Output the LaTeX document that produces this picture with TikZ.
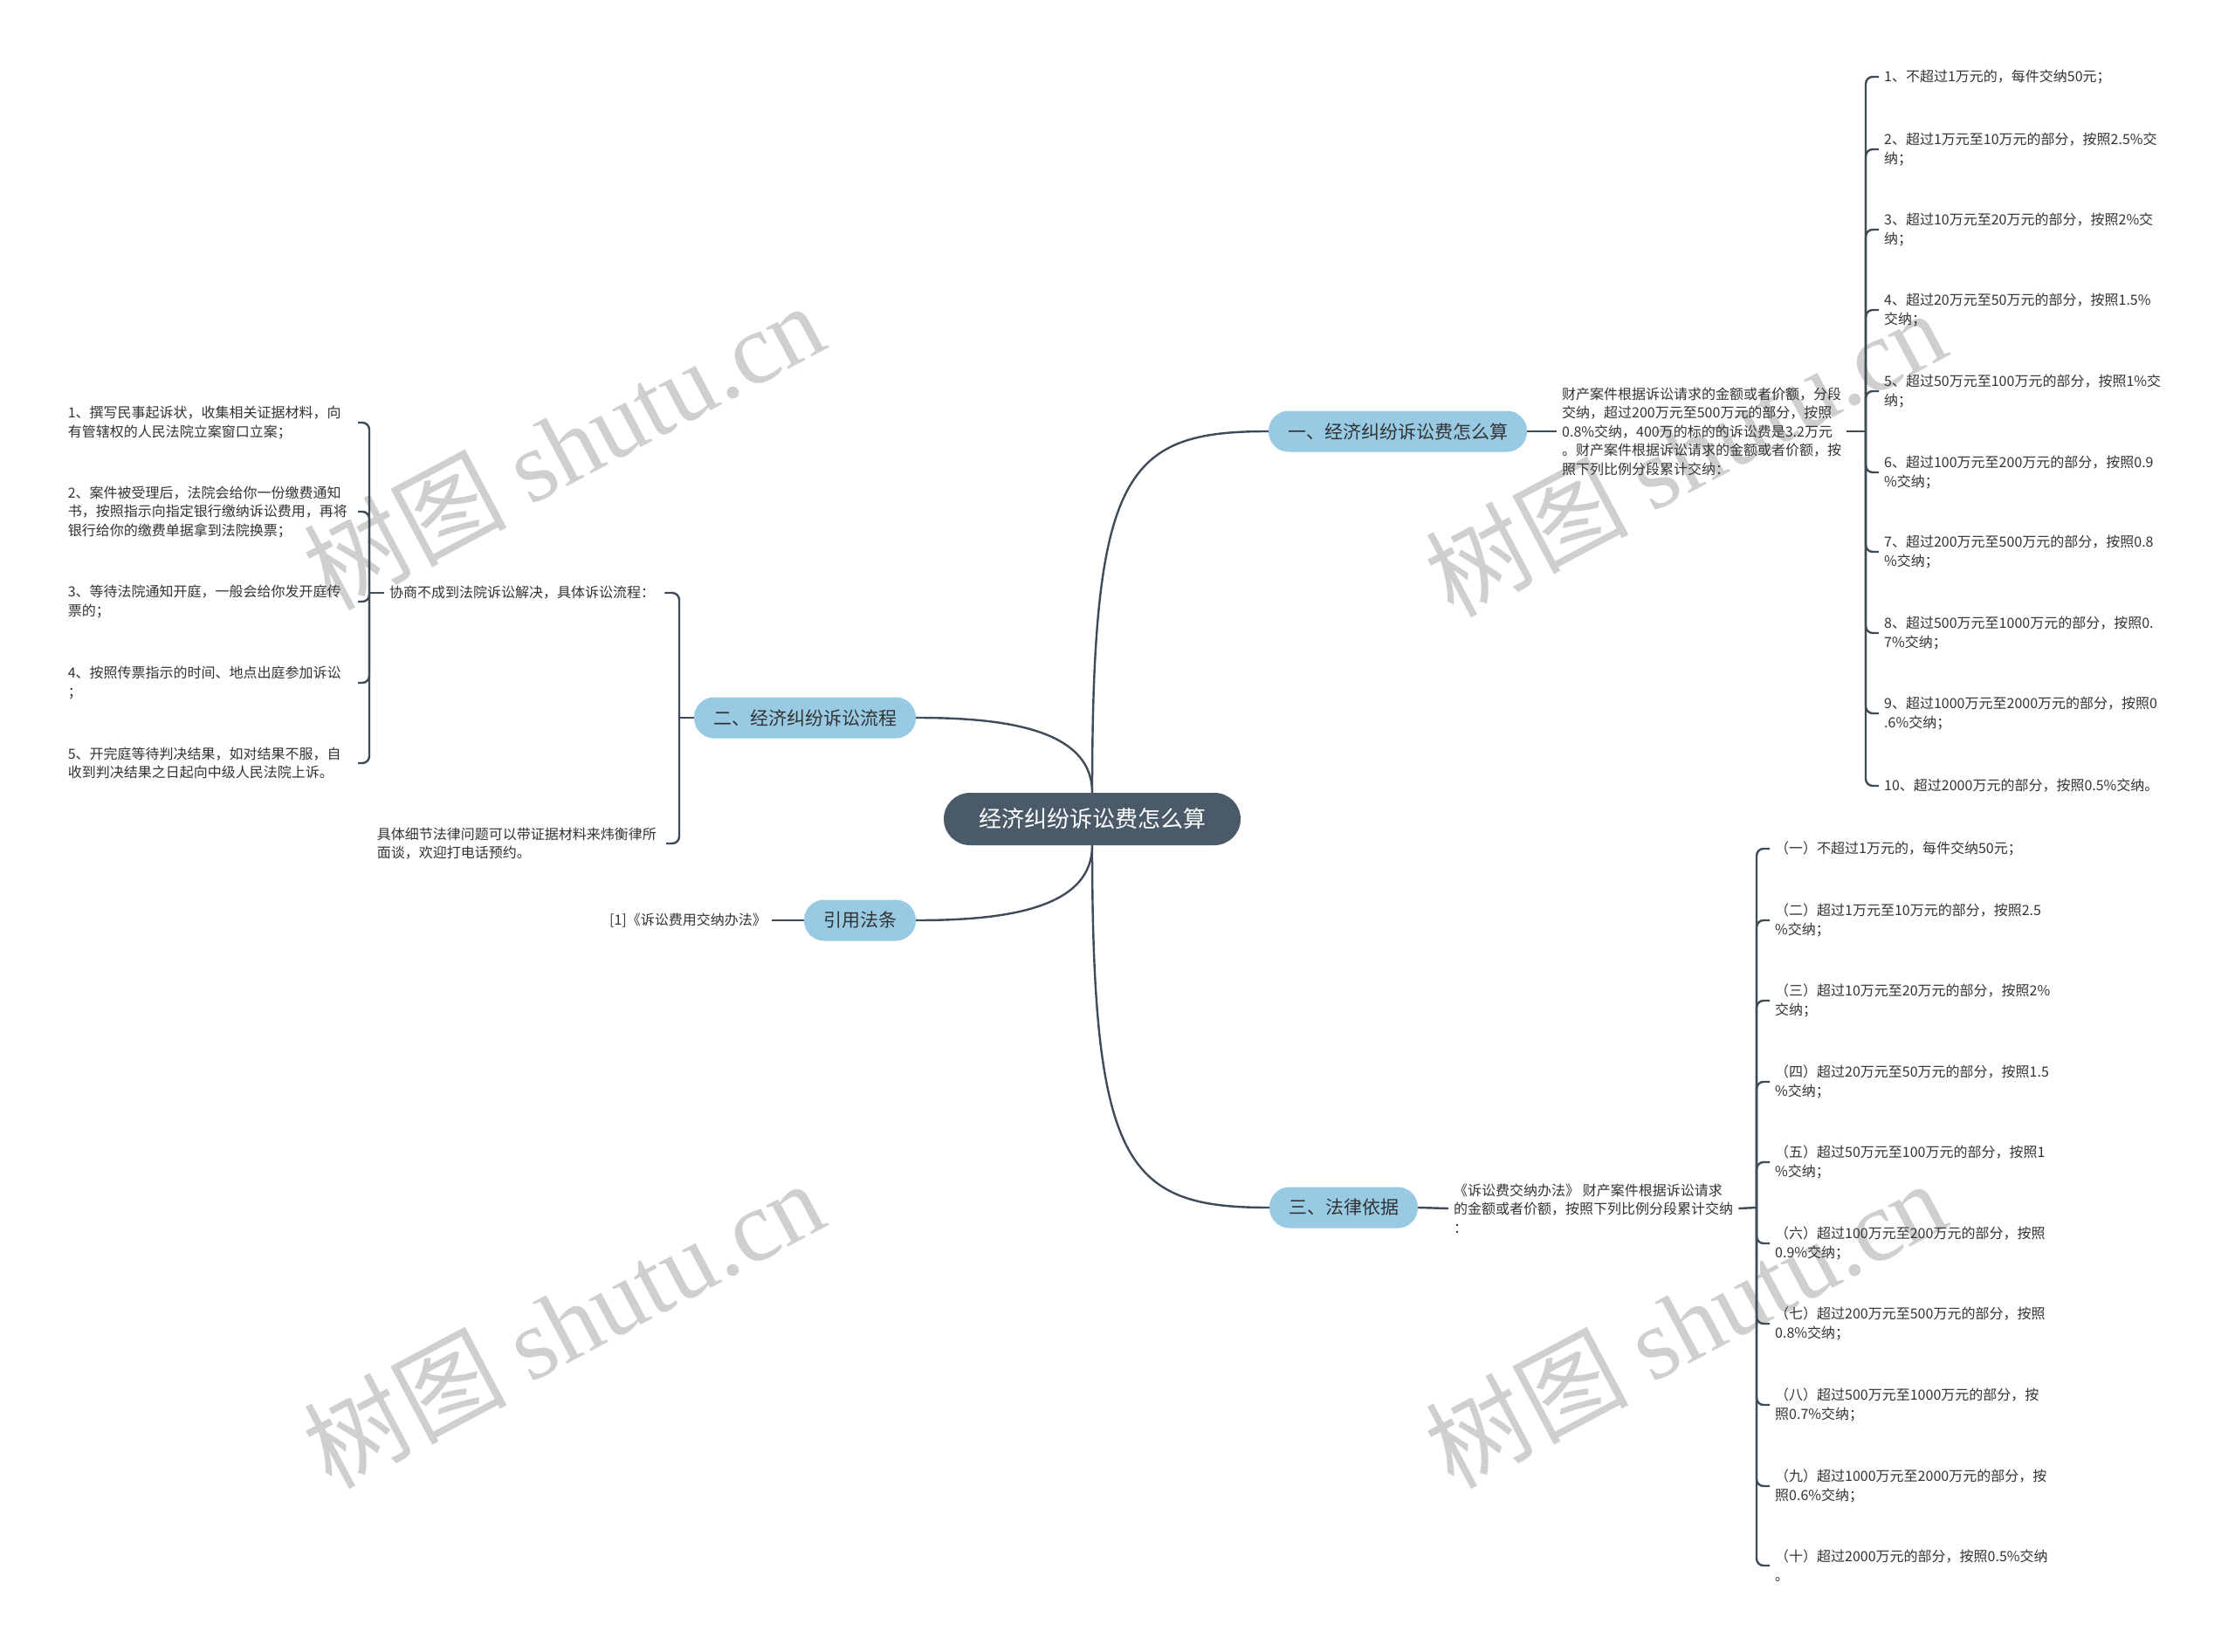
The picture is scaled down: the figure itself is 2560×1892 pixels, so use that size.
\documentclass[tikz,border=0pt]{standalone}
\usepackage{fontspec}
\setmainfont{Noto Sans CJK SC}
\newfontfamily\wmserif{Liberation Serif}
\usetikzlibrary{positioning}
\definecolor{rootfill}{HTML}{4A5A69}
\definecolor{branchfill}{HTML}{98CAE3}
\definecolor{linecol}{HTML}{3F4B58}
\definecolor{txt}{HTML}{333333}
\definecolor{wmcol}{HTML}{CFCFCF}

\begin{document}
\begin{tikzpicture}[x=1pt,y=-1pt,
  root/.style={rectangle,rounded corners=30pt,fill=rootfill,text=white,font=\fontsize{26}{30}\selectfont,minimum height=60pt,inner xsep=40pt},
  branch/.style={rectangle,rounded corners=23pt,fill=branchfill,text=txt,font=\fontsize{21}{24}\selectfont,minimum height=47pt,inner xsep=22pt},
  leaf/.style={align=left,text=txt,font=\fontsize{16}{21.5}\selectfont,inner xsep=6pt,inner ysep=2pt},
  link/.style={draw=linecol,line width=2.4pt},
  brace/.style={link,rounded corners=8pt},
  wm/.style={text=wmcol,rotate=28,font=\fontsize{116}{116}\selectfont}]
  \useasboundingbox (0,0) rectangle (2560,1892);
  \fill[white] (0,0) rectangle (2560,1892);

  % watermarks
  \node[wm] (w1) at (645,510) {树图 {\wmserif shutu.cn}};
  \node[wm] (w2) at (1930,518) {树图 {\wmserif shutu.cn}};
  \node[wm] (w3) at (645,1515) {树图 {\wmserif shutu.cn}};
  \node[wm] (w4) at (1930,1515) {树图 {\wmserif shutu.cn}};

  % centre and main branches
  \node[root] (root) at (1251,938) {经济纠纷诉讼费怎么算};
  \node[branch] (b1) at (1601,494) {一、经济纠纷诉讼费怎么算};
  \node[branch] (b2) at (922,822) {二、经济纠纷诉讼流程};
  \node[branch] (cite) at (985,1054) {引用法条};
  \node[branch] (b3) at (1539,1383) {三、法律依据};
  \draw[link] (root.north) .. controls +(0,-369) and +(-163,0) .. (b1.west);
  \draw[link] (root.north) .. controls +(0,-75) and +(95,0) .. (b2.east);
  \draw[link] (root.south) .. controls +(0,75) and +(95,0) .. (cite.east);
  \draw[link] (root.south) .. controls +(0,369) and +(-163,0) .. (b3.west);

  % branch one
  \node[leaf,anchor=west] (t1) at (1783,494) {财产案件根据诉讼请求的金额或者价额，分段\\交纳，超过200万元至500万元的部分，按照\\0.8\%交纳，400万的标的的诉讼费是3.2万元\\。财产案件根据诉讼请求的金额或者价额，按\\照下列比例分段累计交纳：};
  \coordinate (k1) at (2137,494);
  \draw[link] (b1.east) -- (t1.west);
  \draw[link] (t1.east) -- (k1);
  \node[leaf,anchor=west] (r1) at (2152,88) {1、不超过1万元的，每件交纳50元；};
  \node[leaf,anchor=west] (r2) at (2152,171) {2、超过1万元至10万元的部分，按照2.5\%交\\纳；};
  \node[leaf,anchor=west] (r3) at (2152,263) {3、超过10万元至20万元的部分，按照2\%交\\纳；};
  \node[leaf,anchor=west] (r4) at (2152,355) {4、超过20万元至50万元的部分，按照1.5\%\\交纳；};
  \node[leaf,anchor=west] (r5) at (2152,448) {5、超过50万元至100万元的部分，按照1\%交\\纳；};
  \node[leaf,anchor=west] (r6) at (2152,541) {6、超过100万元至200万元的部分，按照0.9\\\%交纳；};
  \node[leaf,anchor=west] (r7) at (2152,632) {7、超过200万元至500万元的部分，按照0.8\\\%交纳；};
  \node[leaf,anchor=west] (r8) at (2152,725) {8、超过500万元至1000万元的部分，按照0.\\7\%交纳；};
  \node[leaf,anchor=west] (r9) at (2152,817) {9、超过1000万元至2000万元的部分，按照0\\.6\%交纳；};
  \node[leaf,anchor=west] (r10) at (2152,900) {10、超过2000万元的部分，按照0.5\%交纳。};
  \foreach \i in {1,...,10} \draw[brace] (k1) |- (r\i.west);

  % branch two
  \coordinate (k2) at (778,822);
  \draw[link] (b2.west) -- (k2);
  \node[leaf,anchor=west,text width=309pt] (xs) at (440,679) {协商不成到法院诉讼解决，具体诉讼流程：};
  \node[leaf,anchor=east,text width=325pt] (xj) at (763,966) {具体细节法律问题可以带证据材料来炜衡律所\\面谈，欢迎打电话预约。};
  \draw[brace] (k2) |- (xs.east);
  \draw[brace] (k2) |- (xj.east);
  \coordinate (k3) at (423,679);
  \draw[link] (xs.west) -- (k3);
  \node[leaf,anchor=east,text width=326pt] (l1) at (410,484) {1、撰写民事起诉状，收集相关证据材料，向\\有管辖权的人民法院立案窗口立案；};
  \node[leaf,anchor=east,text width=326pt] (l2) at (410,586) {2、案件被受理后，法院会给你一份缴费通知\\书，按照指示向指定银行缴纳诉讼费用，再将\\银行给你的缴费单据拿到法院换票；};
  \node[leaf,anchor=east,text width=326pt] (l3) at (410,689) {3、等待法院通知开庭，一般会给你发开庭传\\票的；};
  \node[leaf,anchor=east,text width=326pt] (l4) at (410,782) {4、按照传票指示的时间、地点出庭参加诉讼\\；};
  \node[leaf,anchor=east,text width=326pt] (l5) at (410,874) {5、开完庭等待判决结果，如对结果不服，自\\收到判决结果之日起向中级人民法院上诉。};
  \foreach \i in {1,...,5} \draw[brace] (k3) |- (l\i.east);

  % cited law
  \node[leaf,anchor=east] (ct) at (884,1054) {[1]《诉讼费用交纳办法》};
  \draw[link] (ct.east) -- (cite.west);

  % branch three
  \node[leaf,anchor=west] (t3) at (1659,1384) {《诉讼费交纳办法》 财产案件根据诉讼请求\\的金额或者价额，按照下列比例分段累计交纳\\：};
  \coordinate (k4) at (2012,1383);
  \draw[link] (b3.east) -- (t3.west);
  \draw[link] (t3.east) -- (k4);
  \node[leaf,anchor=west] (s1) at (2027,972) {（一）不超过1万元的，每件交纳50元；};
  \node[leaf,anchor=west] (s2) at (2027,1054) {（二）超过1万元至10万元的部分，按照2.5\\\%交纳；};
  \node[leaf,anchor=west] (s3) at (2027,1146) {（三）超过10万元至20万元的部分，按照2\%\\交纳；};
  \node[leaf,anchor=west] (s4) at (2027,1239) {（四）超过20万元至50万元的部分，按照1.5\\\%交纳；};
  \node[leaf,anchor=west] (s5) at (2027,1331) {（五）超过50万元至100万元的部分，按照1\\\%交纳；};
  \node[leaf,anchor=west] (s6) at (2027,1424) {（六）超过100万元至200万元的部分，按照\\0.9\%交纳；};
  \node[leaf,anchor=west] (s7) at (2027,1516) {（七）超过200万元至500万元的部分，按照\\0.8\%交纳；};
  \node[leaf,anchor=west] (s8) at (2027,1609) {（八）超过500万元至1000万元的部分，按\\照0.7\%交纳；};
  \node[leaf,anchor=west] (s9) at (2027,1702) {（九）超过1000万元至2000万元的部分，按\\照0.6\%交纳；};
  \node[leaf,anchor=west] (s10) at (2027,1793) {（十）超过2000万元的部分，按照0.5\%交纳\\。};
  \foreach \i in {1,...,10} \draw[brace] (k4) |- (s\i.west);
\end{tikzpicture}
\end{document}
